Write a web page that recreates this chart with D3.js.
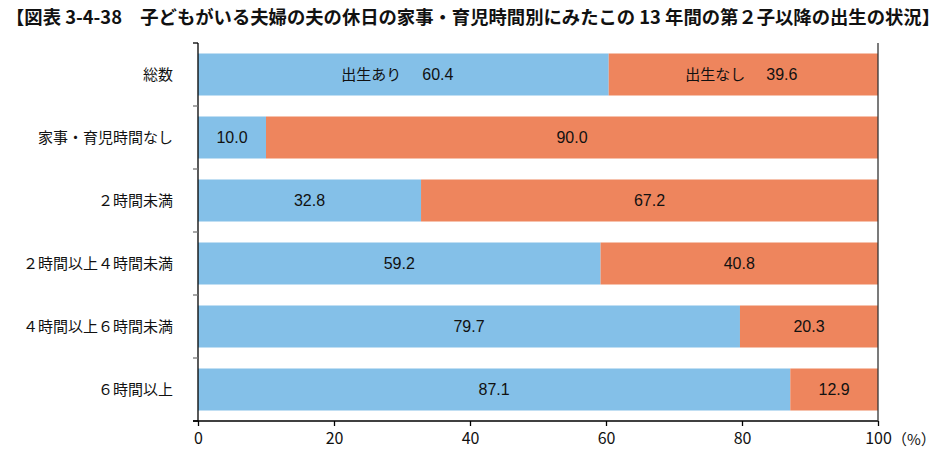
<!DOCTYPE html>
<html><head><meta charset="utf-8">
<script src="https://cdn.jsdelivr.net/npm/d3@7"></script>
<style>
body{margin:0;background:#fff;}
text{font-family:"Noto Sans CJK JP","Noto Sans",sans-serif;}
.num{font-family:"Liberation Sans",Arial,sans-serif;}
</style></head><body>
<svg id="c" width="949" height="466"></svg>
<script>
const title = "【図表 3-4-38　子どもがいる夫婦の夫の休日の家事・育児時間別にみたこの 13 年間の第２子以降の出生の状況】";
const categories = ["総数","家事・育児時間なし","２時間未満","２時間以上４時間未満","４時間以上６時間未満","６時間以上"];
const birthYes = [60.4,10.0,32.8,59.2,79.7,87.1];
const birthNo  = [39.6,90.0,67.2,40.8,20.3,12.9];
const seriesNames = ["出生あり","出生なし"];
const xTicks = [0,20,40,60,80,100];
const unitLabel = "（%）";

const svg = d3.select("#c");
const m = {l:198, r:878, t:43, b:421};
const x = d3.scaleLinear().domain([0,100]).range([m.l,m.r]);
const y = d3.scaleBand().domain(categories).range([m.t,m.b]).paddingInner(1/3).paddingOuter(1/6);
const blue = "#84c0e8", orange = "#ee855d";

svg.append("text").attr("x",6).attr("y",24).attr("font-size",18).attr("font-weight","bold")
  .attr("textLength",934).attr("lengthAdjust","spacingAndGlyphs").attr("fill","#111").text(title);

const rows = categories.map((c,i)=>({c, a:birthYes[i], b:birthNo[i], i}));
const g = svg.append("g");
g.selectAll("rect.a").data(rows).join("rect").attr("class","a")
  .attr("x",x(0)).attr("y",d=>y(d.c)).attr("width",d=>x(d.a)-x(0)).attr("height",y.bandwidth()).attr("fill",blue);
g.selectAll("rect.b").data(rows).join("rect").attr("class","b")
  .attr("x",d=>x(d.a)).attr("y",d=>y(d.c)).attr("width",d=>x(d.a+d.b)-x(d.a)).attr("height",y.bandwidth()).attr("fill",orange);

function label(sel, cx, name, val, shift){
  const t = sel.append("text").attr("x",cx+shift).attr("y",0).attr("dy","0.36em")
    .attr("text-anchor","middle").attr("fill","#111");
  if(name){
    t.append("tspan").attr("font-size",15).text(name);
    t.append("tspan").attr("class","num").attr("dx",21).attr("font-size",16).text(val);
  } else {
    t.append("tspan").attr("class","num").attr("font-size",16).text(val);
  }
}
rows.forEach(d=>{
  const row = g.append("g").attr("transform",`translate(0,${y(d.c)+y.bandwidth()/2})`);
  label(row,(x(0)+x(d.a))/2, d.i===0?seriesNames[0]:null, d.a.toFixed(1), d.i===0?-6:0);
  label(row,(x(d.a)+x(d.a+d.b))/2, d.i===0?seriesNames[1]:null, d.b.toFixed(1), d.i===0?-2:0);
});

// left axis
const la = svg.append("g");
la.append("line").attr("x1",m.l).attr("x2",m.l).attr("y1",m.t).attr("y2",m.b).attr("stroke","#000").attr("stroke-width",1.3);
const bounds = categories.map(c=>y(c)-y.step()*y.paddingInner()/2).concat([m.b]);
bounds[0]=m.t;
la.selectAll("line.t").data(bounds).join("line").attr("class","t")
  .attr("x1",m.l-5).attr("x2",m.l).attr("y1",d=>d).attr("y2",d=>d)
  .attr("stroke",(d,i)=> (i===0||i===bounds.length-1)?"#000":"#777").attr("stroke-width",1.3);
la.selectAll("text").data(categories).join("text")
  .attr("x",173).attr("y",c=>y(c)+y.bandwidth()/2).attr("dy","0.36em")
  .attr("text-anchor","end").attr("font-size",15).attr("fill","#111").text(c=>c);

// bottom axis
const xa = d3.axisBottom(x).tickValues(xTicks).tickSize(5).tickPadding(7).tickFormat(d3.format("d"));
const bg = svg.append("g").attr("transform",`translate(0,${m.b})`).call(xa);
bg.select(".domain").remove();
bg.selectAll(".tick line").attr("stroke","#000").attr("stroke-width",1.3);
bg.selectAll(".tick text").attr("font-size",16).attr("fill","#111").attr("font-family","Liberation Sans, Arial, sans-serif");
svg.append("line").attr("x1",m.l-5).attr("x2",m.r).attr("y1",m.b).attr("y2",m.b).attr("stroke","#000").attr("stroke-width",1.3);
svg.append("line").attr("x1",m.r).attr("x2",m.r).attr("y1",m.t).attr("y2",m.b).attr("stroke","#333").attr("stroke-width",1.3);
svg.append("text").attr("x",x(100)+14).attr("y",m.b+24).attr("font-size",15).attr("fill","#111").text(unitLabel);
</script></body></html>
